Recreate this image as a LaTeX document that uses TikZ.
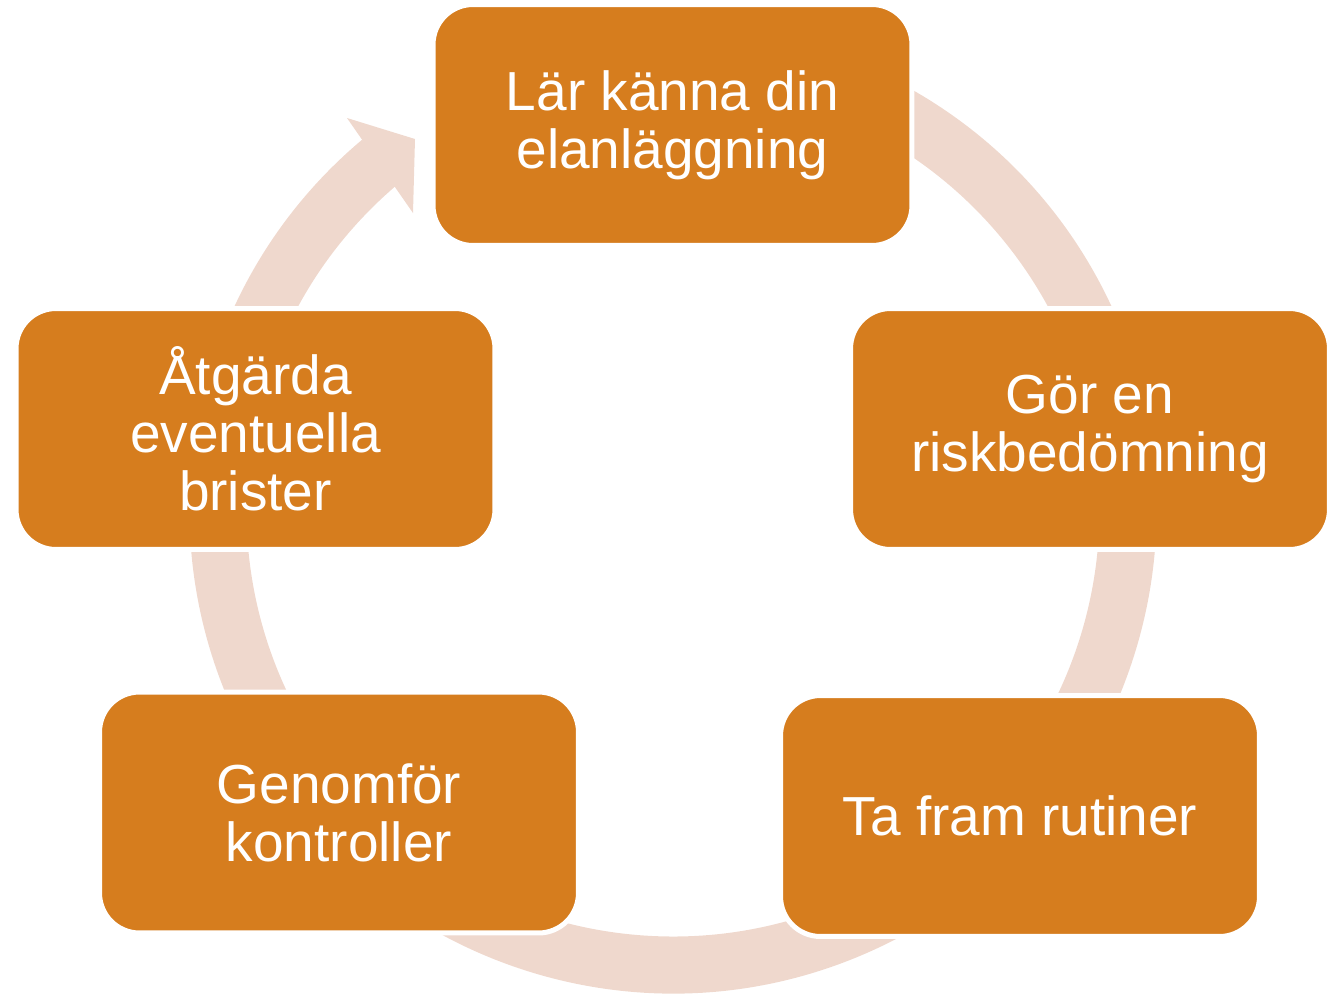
\documentclass[tikz,border=0pt]{standalone}
\usepackage{fontspec}
\setmainfont{Liberation Sans}
\definecolor{stegorange}{RGB}{214,125,30}
\definecolor{ringrosa}{RGB}{239,216,205}
\tikzset{
  stegbox/.style={rectangle, rounded corners=0.8cm, fill=stegorange, draw=white,
    line width=0.1cm, text=white, minimum width=9.58cm, minimum height=4.82cm,
    align=center, inner sep=0pt, font=\fontsize{31.3}{33}\selectfont}
}
\begin{document}
\begin{tikzpicture}[x=0.02cm, y=-0.02cm]
\useasboundingbox (0,0) rectangle (1335,995);

% Ring behind the steps
\fill[ringrosa] (673,510) ++(-115:483.5) arc[start angle=-115, end angle=230, radius=483.5]
  -- ++(50:57) arc[start angle=230, end angle=-115, radius=426.5] -- cycle;

% Arrow head
\fill[ringrosa] (347,118) -- (415,139) -- (413,213) -- cycle;

% Steps
\node[stegbox] (lar) at (672.5,125) {Lär känna din\\elanläggning};
\node[stegbox] (gor) at (1090,429) {Gör en\\riskbedömning};
\node[stegbox] (rutiner) at (1020,816) {Ta fram rutiner};
\node[stegbox] (kontroll) at (339,812.5) {Genomför\\kontroller};
\node[stegbox] (atgarda) at (255.5,429) {Åtgärda\\eventuella\\brister};
\end{tikzpicture}
\end{document}
